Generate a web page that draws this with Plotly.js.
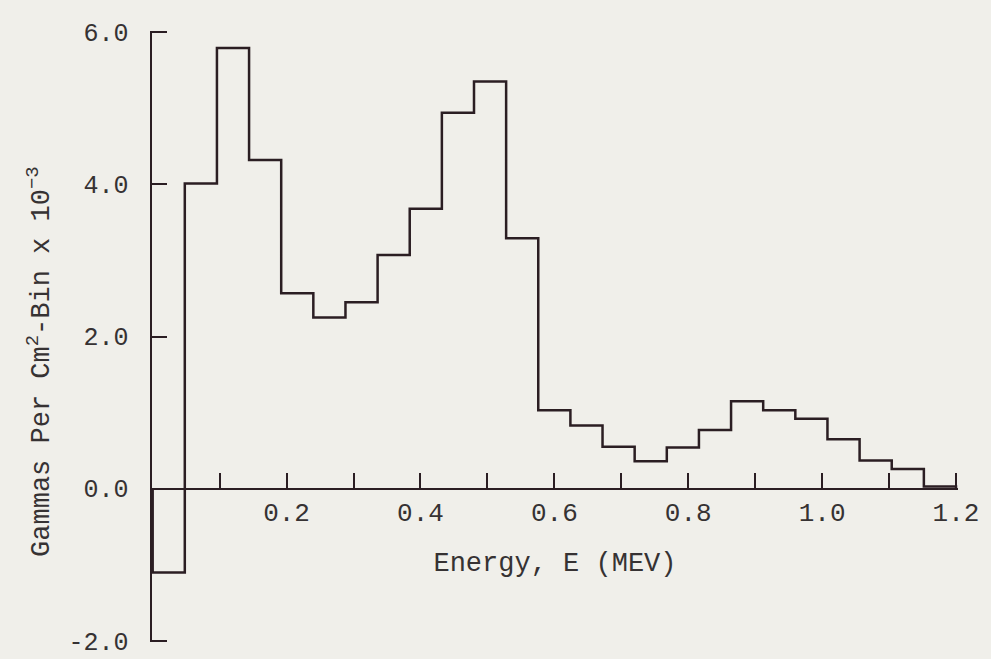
<!DOCTYPE html>
<html>
<head>
<meta charset="utf-8">
<script src="https://cdn.plot.ly/plotly-3.0.1.min.js"></script>
<style>
  html, body { margin: 0; padding: 0; background: #f0efea; }
  #chart { width: 991px; height: 659px; }
</style>
</head>
<body>
<div id="chart"></div>
<script>
// Bin edges (MeV) and bin values (gammas per cm^2-bin x 10^-3)
const binEdges = [0.000, 0.048, 0.096, 0.144, 0.192, 0.240, 0.288, 0.336, 0.384, 0.432,
                  0.480, 0.528, 0.576, 0.624, 0.672, 0.720, 0.768, 0.816, 0.864, 0.912,
                  0.960, 1.008, 1.056, 1.104, 1.152, 1.200];
const binValues = [-1.10, 4.01, 5.79, 4.32, 2.57, 2.25, 2.45, 3.07, 3.68, 4.94,
                   5.35, 3.29, 1.03, 0.83, 0.55, 0.36, 0.54, 0.77, 1.15, 1.03,
                   0.92, 0.65, 0.37, 0.26, 0.03];

const xTickVals = [0.2, 0.4, 0.6, 0.8, 1.0, 1.2];
const xTickText = ['0.2', '0.4', '0.6', '0.8', '1.0', '1.2'];
const xMinorTickVals = [0.1, 0.3, 0.5, 0.7, 0.9, 1.1];
const yTickVals = [-2, 0, 2, 4, 6];
const yTickText = ['-2.0', '0.0', '2.0', '4.0', '6.0'];

const xTitle = 'Energy, E (MEV)';
const yTitle = 'Gammas Per Cm<sup>2</sup>-Bin x 10<sup>\u22123</sup>';

// Step outline built from the bins: start on the baseline at the first edge,
// end back on the baseline at the last edge.
const stepX = [binEdges[0]].concat(binEdges);
const stepY = [0].concat(binValues).concat([0]);

const ink = '#2b1e23';
const textColor = '#363233';
const fontFamily = '"Liberation Mono", "Courier New", "DejaVu Sans Mono", monospace';

const trace = {
  type: 'scatter',
  mode: 'lines',
  x: stepX,
  y: stepY,
  line: { shape: 'hv', color: ink, width: 2.5 },
  hoverinfo: 'skip',
  showlegend: false
};

const layout = {
  width: 991,
  height: 659,
  margin: { l: 152, r: 33, t: 31, b: 17 },
  paper_bgcolor: '#f0efea',
  plot_bgcolor: 'rgba(0,0,0,0)',
  font: { family: fontFamily, color: textColor, size: 25 },
  showlegend: false,
  xaxis: {
    range: [-0.001, 1.203],
    anchor: 'free',
    position: 0.25,
    showline: true,
    linecolor: ink,
    linewidth: 2,
    ticks: 'inside',
    ticklen: 15,
    tickwidth: 2,
    tickcolor: ink,
    tickmode: 'array',
    tickvals: xTickVals,
    ticktext: xTickText,
    minor: {
      tickmode: 'array',
      tickvals: xMinorTickVals,
      ticks: 'inside',
      ticklen: 15,
      tickwidth: 2,
      tickcolor: ink,
      showgrid: false
    },
    tickfont: { family: fontFamily, size: 26, color: textColor },
    ticklabeloverflow: 'allow',
    showgrid: false,
    zeroline: false,
    automargin: false,
    title: { text: xTitle, font: { family: fontFamily, size: 27, color: textColor }, standoff: 23 }
  },
  yaxis: {
    range: [-2.015, 6.015],
    showline: true,
    linecolor: ink,
    linewidth: 2.5,
    ticks: 'inside',
    ticklen: 15,
    tickwidth: 2,
    tickcolor: ink,
    tickmode: 'array',
    tickvals: yTickVals,
    ticktext: yTickText,
    ticklabelstandoff: 16,
    ticklabeloverflow: 'allow',
    tickfont: { family: fontFamily, size: 25, color: textColor },
    showgrid: false,
    zeroline: false,
    automargin: false
  },
  annotations: [{
    text: yTitle,
    xref: 'paper', yref: 'paper',
    x: -0.139, y: 0.46,
    xanchor: 'center', yanchor: 'middle',
    textangle: -90,
    showarrow: false,
    font: { family: fontFamily, size: 27, color: textColor }
  }]
};

Plotly.newPlot('chart', [trace], layout, { displayModeBar: false, staticPlot: true });
</script>
</body>
</html>
